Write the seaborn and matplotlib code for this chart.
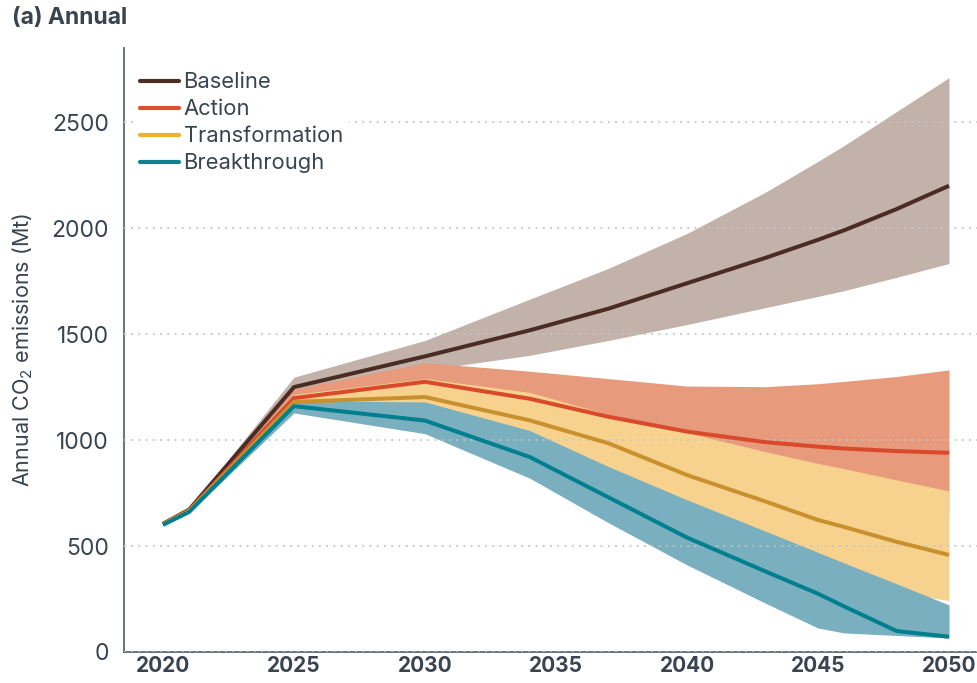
import numpy as np
import pandas as pd
import matplotlib
matplotlib.use("Agg")
import matplotlib.pyplot as plt
from matplotlib.lines import Line2D
import seaborn as sns

# values (Mt CO2)
years = [2020, 2021, 2025, 2030, 2034, 2037, 2040, 2043, 2045, 2046, 2048, 2050]

baseline = [605, 672, 1250, 1395, 1518, 1620, 1740, 1860, 1945, 1990, 2090, 2200]
baseline_hi = [608, 676, 1297, 1470, 1665, 1810, 1975, 2170, 2315, 2390, 2550, 2710]
baseline_lo = [603, 668, 1225, 1330, 1400, 1470, 1545, 1625, 1678, 1705, 1768, 1833]

action = [603, 669, 1198, 1275, 1195, 1110, 1040, 990, 969, 960, 948, 940]
action_hi = [605, 670, 1240, 1365, 1325, 1290, 1255, 1252, 1266, 1277, 1300, 1331]
action_lo = [603, 667, 1190, 1245, 1140, 1045, 957, 865, 804, 775, 716, 658]

transformation = [603, 666, 1180, 1203, 1093, 985, 835, 710, 623, 590, 520, 458]
transformation_hi = [604, 668, 1215, 1290, 1225, 1120, 1035, 945, 890, 865, 812, 760]
transformation_lo = [600, 663, 1160, 1130, 975, 830, 680, 528, 425, 372, 280, 243]

breakthrough = [600, 661, 1160, 1092, 920, 730, 540, 380, 275, 215, 99, 72]
breakthrough_hi = [602, 664, 1185, 1180, 1045, 875, 718, 570, 470, 420, 322, 222]
breakthrough_lo = [597, 657, 1128, 1030, 820, 610, 411, 230, 113, 90, 78, 66]

scenarios = ["Baseline", "Action", "Transformation", "Breakthrough"]
line_colors = ["#4a2c24", "#d84a2b", "#c9912e", "#00808f"]
legend_colors = ["#4b2e25", "#d9502f", "#f3ae2c", "#11808f"]
band_colors = ["#c2b2aa", "#e89a7c", "#f7d28e", "#7aafc0"]

central = [baseline, action, transformation, breakthrough]
bands = [(baseline_lo, baseline_hi), (action_lo, action_hi),
         (transformation_lo, transformation_hi), (breakthrough_lo, breakthrough_hi)]

df = pd.DataFrame({
    "year": years * len(scenarios),
    "value": sum(central, []),
    "scenario": np.repeat(scenarios, len(years)),
})

sns.set_style("white")
plt.rcParams["font.family"] = ["Inter", "DejaVu Sans"]
plt.rcParams["mathtext.fontset"] = "custom"
plt.rcParams["mathtext.rm"] = "Inter"

text_color = "#3a4450"
spine_color = "#5f6873"

fig = plt.figure(figsize=(9.77, 6.83), dpi=100)
ax = fig.add_axes([124 / 977, 1 - 652 / 683, 1 - 124 / 977, (652 - 48) / 683])

for (lo, hi), c in zip(bands, band_colors):
    ax.fill_between(years, lo, hi, color=c, linewidth=0, zorder=1)

sns.lineplot(data=df, x="year", y="value", hue="scenario", hue_order=scenarios,
             palette=dict(zip(scenarios, line_colors)), linewidth=2.9,
             errorbar=None, legend=False, ax=ax)
for ln in ax.lines:
    ln.set_zorder(3)
    ln.set_solid_capstyle("butt")

ax.set_xlim(2020 - 39 / 26.2, 2050 + 28 / 26.2)
ax.set_ylim(0, 2850)
ax.set_xticks([2020, 2025, 2030, 2035, 2040, 2045, 2050])
ax.set_yticks([0, 500, 1000, 1500, 2000, 2500])
ax.set_axisbelow(False)
ax.yaxis.grid(True, linestyle=(0, (1, 3)), color="#c4c4c4", linewidth=1.3)
ax.xaxis.grid(False)

for s in ["top", "right"]:
    ax.spines[s].set_visible(False)
for s in ["left", "bottom"]:
    ax.spines[s].set_color(spine_color)
    ax.spines[s].set_linewidth(1.3)

ax.tick_params(axis="y", length=0, pad=11, labelsize=16.5, labelcolor=text_color)
ax.tick_params(axis="x", length=0, pad=3, labelsize=15, labelcolor=text_color)
for t in ax.get_xticklabels():
    t.set_fontweight("bold")

ax.set_xlabel("")
ax.set_ylabel(r"Annual CO$_\mathrm{2}$ emissions (Mt)", fontsize=15.5, color=text_color, labelpad=12)

handles = [Line2D([0], [0], color=c, linewidth=3) for c in legend_colors]
leg = ax.legend(handles, scenarios, loc="upper left", bbox_to_anchor=(0.125, 0.92),
                bbox_transform=fig.transFigure, frameon=True, fontsize=15.8,
                handlelength=1.8, handletextpad=0.2, labelspacing=0.32, borderpad=0.3)
leg.get_frame().set_facecolor("white")
leg.get_frame().set_edgecolor("none")
leg.get_frame().set_alpha(1)
for t in leg.get_texts():
    t.set_color(text_color)

fig.text(12 / 977, 1 - 18 / 683, "(a) Annual", fontsize=16.5, fontweight="bold",
         color=text_color, ha="left", va="center")

fig.savefig("out.png", dpi=100)
